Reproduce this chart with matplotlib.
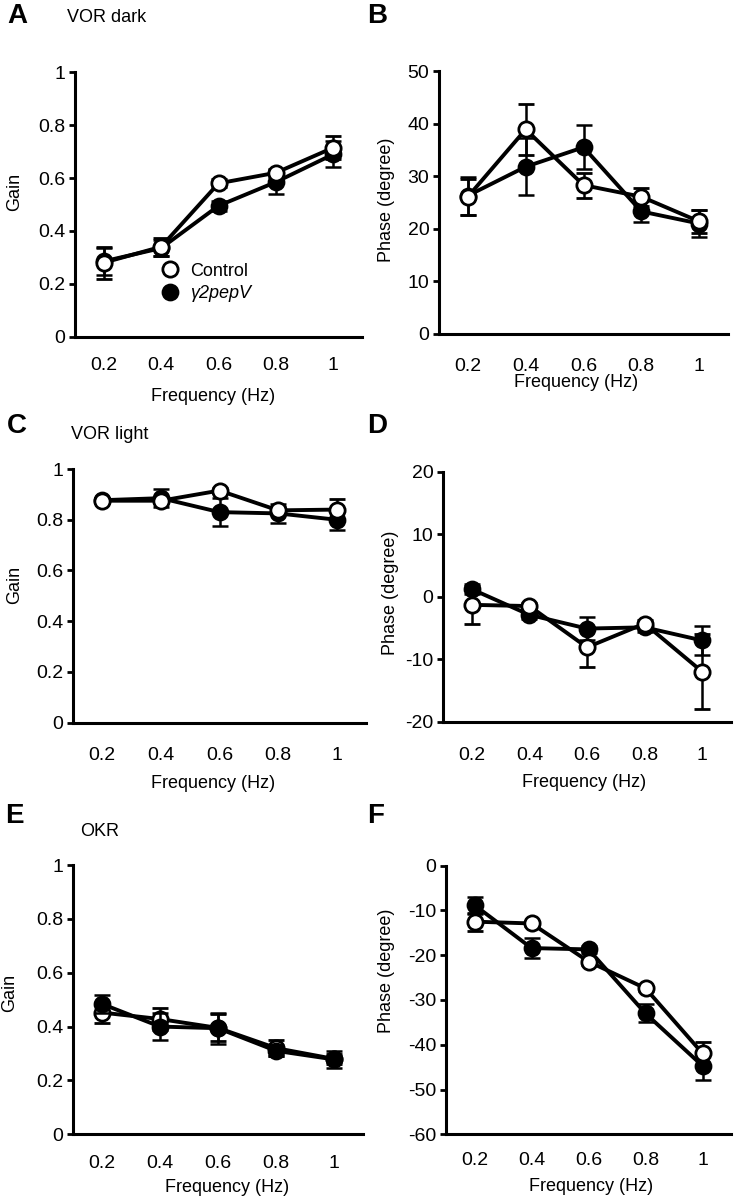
import matplotlib
matplotlib.use("Agg")
import matplotlib.pyplot as plt
from matplotlib.lines import Line2D

plt.rcParams["font.family"] = ["Liberation Sans", "DejaVu Sans"]
plt.rcParams["font.size"] = 13

freq_labels = ["0.2", "0.4", "0.6", "0.8", "1"]

# A: VOR dark gain
vd_gain_ctrl = [0.28, 0.34, 0.58, 0.62, 0.715]
vd_gain_ctrl_err = [0.06, 0.035, 0.015, 0.015, 0.043]
vd_gain_pep = [0.285, 0.335, 0.495, 0.585, 0.69]
vd_gain_pep_err = [0.05, 0.03, 0.02, 0.044, 0.05]
# B: VOR dark phase
vd_phase_ctrl = [26.1, 38.9, 28.3, 26.1, 21.4]
vd_phase_ctrl_err = [3.4, 4.9, 2.4, 1.7, 2.2]
vd_phase_pep = [26.3, 31.8, 35.5, 23.3, 21.0]
vd_phase_pep_err = [3.6, 5.4, 4.2, 2.0, 2.5]
# C: VOR light gain
vl_gain_ctrl = [0.875, 0.875, 0.915, 0.837, 0.84]
vl_gain_ctrl_err = [0.01, 0.01, 0.01, 0.015, 0.04]
vl_gain_pep = [0.877, 0.885, 0.83, 0.825, 0.80]
vl_gain_pep_err = [0.01, 0.035, 0.055, 0.036, 0.04]
# D: VOR light phase
vl_phase_ctrl = [-1.3, -1.5, -8.1, -4.3, -12.0]
vl_phase_ctrl_err = [3.0, 0.5, 3.2, 0.6, 6.0]
vl_phase_pep = [1.2, -2.9, -5.1, -4.9, -7.0]
vl_phase_pep_err = [0.8, 0.6, 1.9, 0.8, 2.3]
# E: OKR gain
okr_gain_ctrl = [0.452, 0.428, 0.395, 0.32, 0.28]
okr_gain_ctrl_err = [0.038, 0.04, 0.05, 0.03, 0.02]
okr_gain_pep = [0.484, 0.40, 0.394, 0.31, 0.278]
okr_gain_pep_err = [0.033, 0.05, 0.057, 0.02, 0.03]
# F: OKR phase
okr_phase_ctrl = [-12.5, -12.9, -21.4, -27.4, -41.9]
okr_phase_ctrl_err = [2.0, 0.5, 0.8, 0.6, 2.6]
okr_phase_pep = [-8.8, -18.4, -18.7, -33.0, -44.7]
okr_phase_pep_err = [1.9, 2.2, 0.8, 2.0, 3.2]

W, H = 736, 1199
fig = plt.figure(figsize=(W / 100, H / 100), dpi=100)


def px_axes(l, r, t, b):
    return fig.add_axes([l / W, 1 - b / H, (r - l) / W, (b - t) / H])


# panel specs: (pixel box, data, ylim, yticks, ylabel, xlabel pos, ylabel pos, tick pad, ctrl on top)
panels = [
    ((75, 362, 72.3, 336.7), vd_gain_ctrl, vd_gain_ctrl_err, vd_gain_pep, vd_gain_pep_err,
     (0, 1), [0, 0.2, 0.4, 0.6, 0.8, 1], "Gain", (0.48, -0.225), (-0.209, 0.547), 14.5, True),
    ((439, 728, 71, 334), vd_phase_ctrl, vd_phase_ctrl_err, vd_phase_pep, vd_phase_pep_err,
     (0, 50), [0, 10, 20, 30, 40, 50], "Phase (degree)", (0.474, -0.186), (-0.183, 0.51), 17.5, True),
    ((73, 366, 469, 722.7), vl_gain_ctrl, vl_gain_ctrl_err, vl_gain_pep, vl_gain_pep_err,
     (0, 1), [0, 0.2, 0.4, 0.6, 0.8, 1], "Gain", (0.478, -0.238), (-0.198, 0.543), 17.5, True),
    ((443, 731, 471.7, 721.7), vl_phase_ctrl, vl_phase_ctrl_err, vl_phase_pep, vl_phase_pep_err,
     (-20, 20), [-20, -10, 0, 10, 20], "Phase (degree)", (0.49, -0.245), (-0.184, 0.515), 18, True),
    ((73, 363, 865, 1134.3), okr_gain_ctrl, okr_gain_ctrl_err, okr_gain_pep, okr_gain_pep_err,
     (0, 1), [0, 0.2, 0.4, 0.6, 0.8, 1], "Gain", (0.53, -0.196), (-0.217, 0.525), 15, False),
    ((446, 731, 865.7, 1134.3), okr_phase_ctrl, okr_phase_ctrl_err, okr_phase_pep, okr_phase_pep_err,
     (-60, 0), [-60, -50, -40, -30, -20, -10, 0], "Phase (degree)", (0.51, -0.196), (-0.21, 0.61), 13, True),
]

x = list(range(len(freq_labels)))
axes = []
for box, yc, ec, yp, ep, ylim, yticks, ylab, xlpos, ylpos, pad, ctrl_top in panels:
    ax = px_axes(*box)
    axes.append(ax)
    zc, zp = (4, 3) if ctrl_top else (3, 4)
    ax.errorbar(x, yp, yerr=ep, fmt="-o", color="black", mfc="black", mec="black",
                ms=11, mew=1.8, lw=2.8, elinewidth=1.8, capsize=5.5, capthick=2.2, zorder=zp)
    ax.errorbar(x, yc, yerr=ec, fmt="-o", color="black", mfc="white", mec="black",
                ms=11, mew=2.0, lw=2.8, elinewidth=1.8, capsize=5.5, capthick=2.2, zorder=zc)
    ax.set_xlim(-0.5, 4.5)
    ax.set_ylim(*ylim)
    ax.set_yticks(yticks)
    ax.set_yticklabels([f"{t:g}" for t in yticks])
    ax.set_xticks(x)
    ax.set_xticklabels(freq_labels)
    ax.tick_params(axis="x", length=0, pad=pad, labelsize=14)
    ax.tick_params(axis="y", length=4, width=2, direction="out", pad=3, labelsize=14)
    for s in ["top", "right"]:
        ax.spines[s].set_visible(False)
    for s in ["left", "bottom"]:
        ax.spines[s].set_linewidth(2.2)
    ax.set_xlabel("Frequency (Hz)", fontsize=13, va="center")
    ax.xaxis.set_label_coords(*xlpos)
    ax.set_ylabel(ylab, fontsize=13, va="center")
    ax.yaxis.set_label_coords(*ylpos)

# legend in panel A
h_ctrl = Line2D([], [], ls="none", marker="o", ms=11, mfc="white", mec="black", mew=2.0)
h_pep = Line2D([], [], ls="none", marker="o", ms=11, mfc="black", mec="black", mew=1.8)
leg = axes[0].legend([h_ctrl, h_pep], ["Control", "\u03b32pepV"], loc="center left",
                     bbox_to_anchor=(0.30, 0.205), frameon=False, fontsize=13,
                     handlelength=1.0, handletextpad=0.6, labelspacing=0.3,
                     borderpad=0, borderaxespad=0)
leg.get_texts()[1].set_style("italic")

# panel letters and subtitles
letters = [("A", 17, 16), ("B", 377, 16), ("C", 17, 426), ("D", 377, 426), ("E", 14, 816), ("F", 376, 816)]
for s, px, py in letters:
    fig.text(px / W, 1 - py / H, s, fontsize=20, fontweight="bold", ha="center", va="center")
subtitles = [("VOR dark", 107, 18), ("VOR light", 110, 435), ("OKR", 100, 832)]
for s, px, py in subtitles:
    fig.text(px / W, 1 - py / H, s, fontsize=13, ha="center", va="center")

fig.savefig("out.png", dpi=100)
